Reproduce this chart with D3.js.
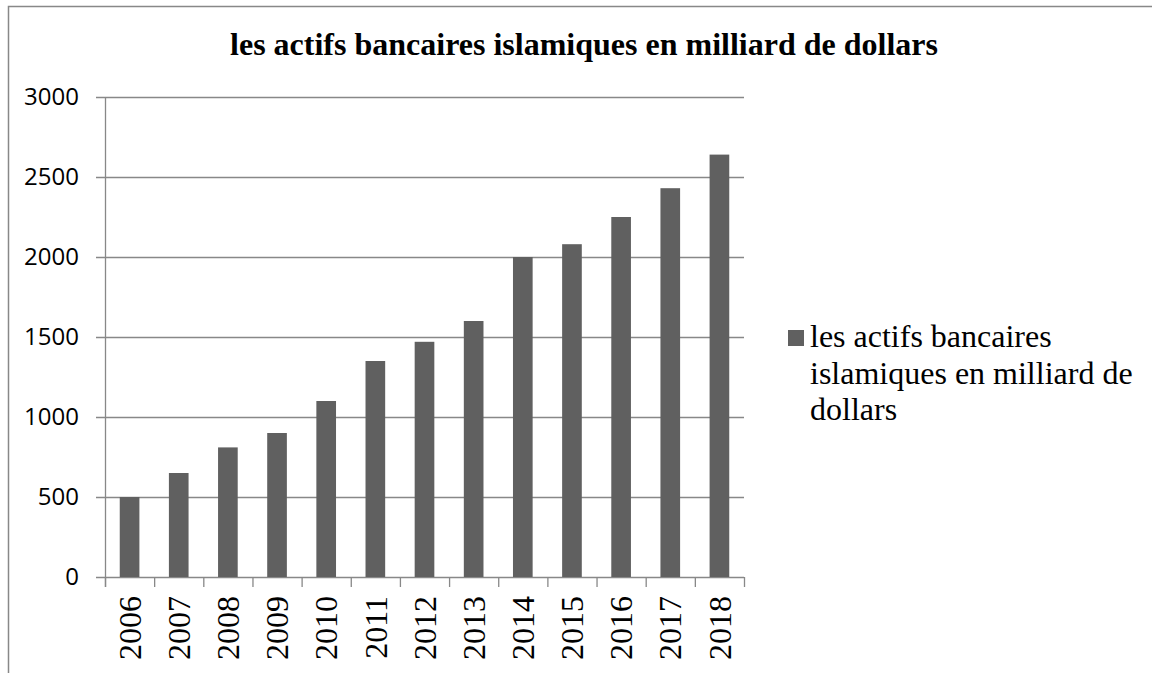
<!DOCTYPE html>
<html>
<head>
<meta charset="utf-8">
<script src="https://cdn.jsdelivr.net/npm/d3@7"></script>
<style>
  body { margin: 0; background: #fff; }
  svg { display: block; }
</style>
</head>
<body>
<svg id="svg" width="1152" height="673"></svg>
<script>
// données
const years = ["2006", "2007", "2008", "2009", "2010", "2011", "2012", "2013", "2014", "2015", "2016", "2017", "2018"];
const actifs = [500, 650, 810, 900, 1100, 1350, 1470, 1600, 2000, 2080, 2250, 2430, 2640];
const yTicks = [0, 500, 1000, 1500, 2000, 2500, 3000];
const titre = "les actifs bancaires islamiques en milliard de dollars";
const legendLines = ["les actifs bancaires", "islamiques en milliard de", "dollars"];

const svg = d3.select("#svg");
const grey = "#888888";
const barColor = "#606060";
const serif = "'Liberation Serif', 'Times New Roman', serif";

// cadre extérieur (coupé à droite et en bas)
svg.append("rect")
  .attr("x", 8.5).attr("y", 6.5)
  .attr("width", 1200).attr("height", 700)
  .attr("fill", "none").attr("stroke", grey).attr("stroke-width", 1.5);

// titre
svg.append("text")
  .attr("x", 584).attr("y", 55)
  .attr("text-anchor", "middle")
  .attr("font-family", serif)
  .attr("font-weight", "bold")
  .attr("font-size", 32)
  .text(titre);

const plotLeft = 105, plotRight = 744, plotTop = 97, plotBottom = 577;

const x = d3.scaleBand().domain(years).range([plotLeft, plotRight]).paddingInner(0.6).paddingOuter(0.3);
const y = d3.scaleLinear().domain([0, 3000]).range([plotBottom, plotTop]);

// grille horizontale
svg.append("g")
  .selectAll("line")
  .data(yTicks)
  .join("line")
  .attr("x1", plotLeft - 9).attr("x2", plotRight)
  .attr("y1", d => y(d) + 0.5).attr("y2", d => y(d) + 0.5)
  .attr("stroke", grey).attr("stroke-width", 1.3);

// axe vertical
svg.append("line")
  .attr("x1", plotLeft + 0.5).attr("x2", plotLeft + 0.5)
  .attr("y1", plotTop).attr("y2", plotBottom + 10)
  .attr("stroke", grey).attr("stroke-width", 1.3);

// étiquettes y
svg.append("g")
  .selectAll("text")
  .data(yTicks)
  .join("text")
  .attr("x", 79).attr("y", d => y(d))
  .attr("dy", "0.35em")
  .attr("text-anchor", "end")
  .attr("font-family", "'Open Sans', sans-serif")
  .attr("font-size", 24)
  .text(d => d);

// barres
svg.append("g")
  .selectAll("rect")
  .data(actifs)
  .join("rect")
  .attr("x", (d, i) => x(years[i]))
  .attr("y", d => y(d))
  .attr("width", x.bandwidth())
  .attr("height", d => y(0) - y(d))
  .attr("fill", barColor);

// graduations de l'axe x
const step = (plotRight - plotLeft) / years.length;
svg.append("g")
  .selectAll("line")
  .data(d3.range(years.length + 1))
  .join("line")
  .attr("x1", i => plotLeft + i * step + 0.5).attr("x2", i => plotLeft + i * step + 0.5)
  .attr("y1", plotBottom).attr("y2", plotBottom + 10)
  .attr("stroke", grey).attr("stroke-width", 1.3);

// étiquettes x
svg.append("g")
  .selectAll("text")
  .data(years)
  .join("text")
  .attr("transform", d => `translate(${x(d) + x.bandwidth() / 2},596) rotate(-90)`)
  .attr("dy", "0.35em")
  .attr("text-anchor", "end")
  .attr("font-family", serif)
  .attr("font-size", 32)
  .text(d => d);

// légende
svg.append("rect")
  .attr("x", 788).attr("y", 330)
  .attr("width", 16).attr("height", 16)
  .attr("fill", barColor);

svg.append("g")
  .selectAll("text")
  .data(legendLines)
  .join("text")
  .attr("x", 810)
  .attr("y", (d, i) => 347 + i * 36.5)
  .attr("font-family", serif)
  .attr("font-size", 32)
  .text(d => d);
</script>
</body>
</html>
